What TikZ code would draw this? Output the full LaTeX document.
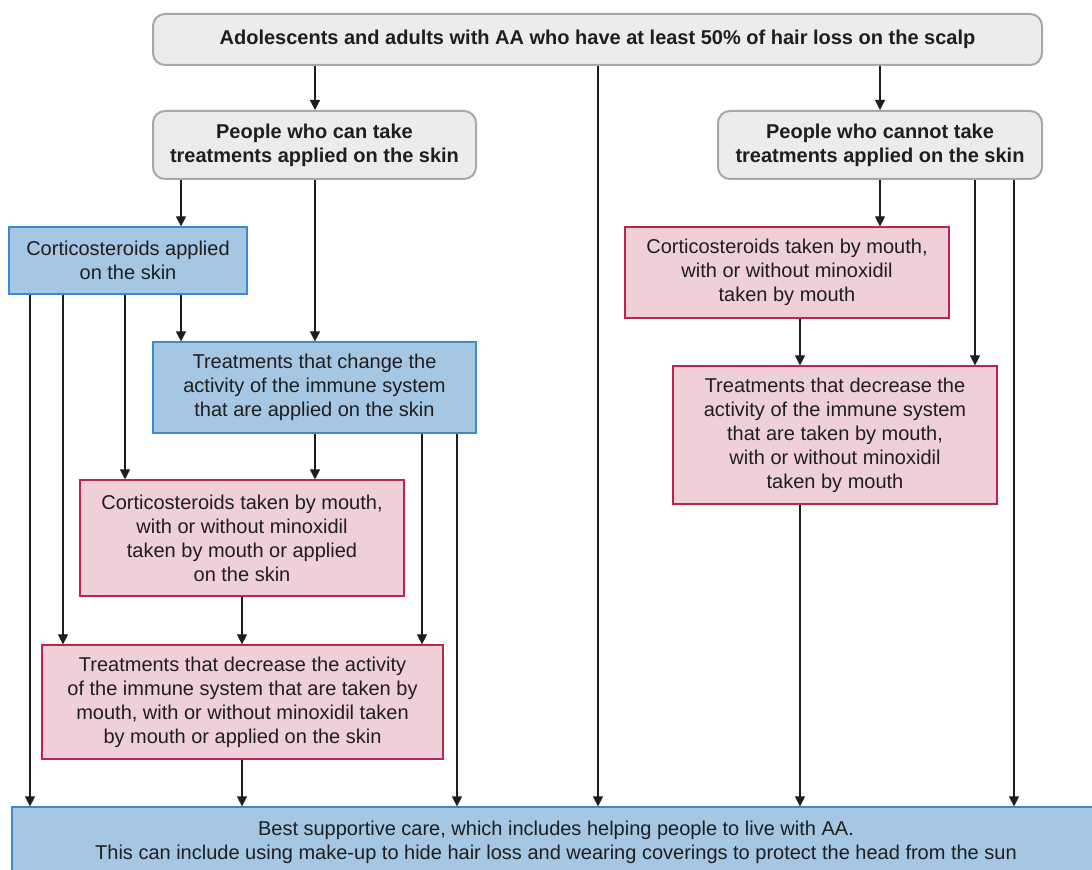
\documentclass[tikz,border=0pt]{standalone}
\usepackage{fontspec}
\setmainfont{Liberation Sans}
\usetikzlibrary{arrows.meta}

\definecolor{askgray}{RGB}{236,236,236}
\definecolor{askedge}{RGB}{168,168,168}
\definecolor{skinblue}{RGB}{166,199,227}
\definecolor{skinedge}{RGB}{62,138,206}
\definecolor{mouthpink}{RGB}{240,208,216}
\definecolor{mouthedge}{RGB}{188,38,78}
\definecolor{inkdark}{RGB}{30,30,30}

\tikzset{
  base/.style={align=center, inner sep=0pt, text=inkdark,
    font=\fontsize{10}{12}\selectfont},
  question/.style={base, draw=askedge, line width=1pt, fill=askgray,
    rounded corners=6pt, font=\fontsize{10}{12}\selectfont\bfseries},
  topical/.style={base, draw=skinedge, line width=0.6pt, fill=skinblue},
  oral/.style={base, draw=mouthedge, line width=0.6pt, fill=mouthpink},
  arr/.style={-{Triangle[length=5pt,width=5pt]}, line width=0.6pt, draw=inkdark},
}

\begin{document}
\begin{tikzpicture}[x=0.5pt,y=-0.5pt]
    \useasboundingbox (0,0) rectangle (1092,870);

    % who can take what
    \node[question, minimum width=444.5pt, minimum height=25.5pt] (top) at (597.5,39.5)
        {Adolescents and adults with AA who have at least 50\% of hair loss on the scalp};
    \node[question, minimum width=161.5pt, minimum height=34pt] (can) at (314.5,145)
        {People who can take\\treatments applied on the skin};
    \node[question, minimum width=162pt, minimum height=34pt] (cannot) at (880,145)
        {People who cannot take\\treatments applied on the skin};

    % left branch
    \node[topical, minimum width=119pt, minimum height=33.5pt] (cskin) at (128,260.5)
        {Corticosteroids applied\\on the skin};
    \node[topical, minimum width=161.5pt, minimum height=45.5pt] (iskin) at (314.5,387.5)
        {Treatments that change the\\activity of the immune system\\that are applied on the skin};
    \node[oral, minimum width=162pt, minimum height=58pt] (cmouthL) at (242,538)
        {Corticosteroids taken by mouth,\\with or without minoxidil\\taken by mouth or applied\\on the skin};
    \node[oral, minimum width=200.5pt, minimum height=57pt] (imouthL) at (242.5,702)
        {Treatments that decrease the activity\\of the immune system that are taken by\\mouth, with or without minoxidil taken\\by mouth or applied on the skin};

    % right branch
    \node[oral, minimum width=162pt, minimum height=45.5pt] (cmouthR) at (787,272.5)
        {Corticosteroids taken by mouth,\\with or without minoxidil\\taken by mouth};
    \node[oral, minimum width=162pt, minimum height=69pt] (imouthR) at (835,435)
        {Treatments that decrease the\\activity of the immune system\\that are taken by mouth,\\with or without minoxidil\\taken by mouth};

    % everyone ends here
    \node[topical, minimum width=544pt, minimum height=35.5pt] (care) at (556,842.5)
        {Best supportive care, which includes helping people to live with AA.\\This can include using make-up to hide hair loss and wearing coverings to protect the head from the sun};

    % arrows: from / to / column
    \foreach \a/\b/\x in {top/can/315, top/cannot/880, top/care/598,
        can/cskin/181, can/iskin/315,
        cskin/care/30, cskin/imouthL/63, cskin/cmouthL/125, cskin/iskin/181,
        iskin/cmouthL/315, iskin/imouthL/422, iskin/care/457,
        cmouthL/imouthL/242, imouthL/care/242,
        cannot/cmouthR/880, cannot/imouthR/975, cannot/care/1014,
        cmouthR/imouthR/800, imouthR/care/800}
        {\draw[arr] (\a.south -| \x,0) -- (\b.north -| \x,0);}
\end{tikzpicture}
\end{document}
